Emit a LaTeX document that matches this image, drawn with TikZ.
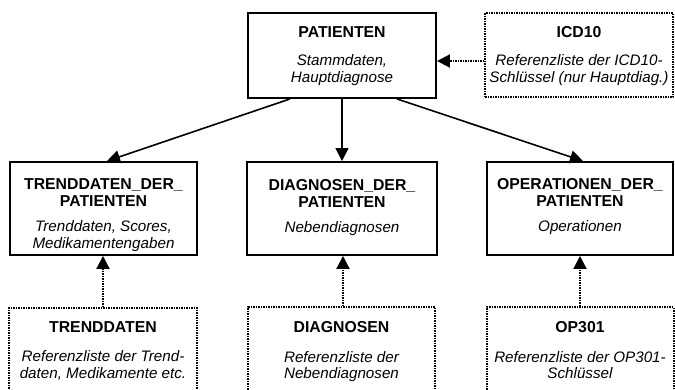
\documentclass[tikz,border=0pt]{standalone}
\usepackage{fontspec}
\setmainfont{Liberation Sans}
\usetikzlibrary{arrows.meta}
\newcommand\myital[1]{{\fontsize{15.2}{16.8}\selectfont\itshape #1}}
\begin{document}
\begin{tikzpicture}[x=1pt,y=-1pt,
  solidbox/.style={draw,line width=1.9pt,minimum height=#1,inner sep=0pt},
  dotbox/.style={draw,line width=2pt,dash pattern=on 1.5pt off 1pt,inner sep=0pt,minimum height=#1},
  boxtext/.style={anchor=north,align=center,inner sep=0pt,font=\fontsize{15.8}{16.8}\selectfont},
  solidarrow/.style={line width=1.6pt,-{Triangle[length=13pt,width=13pt]}},
  dotarrow/.style={line width=2pt,dash pattern=on 1.5pt off 1pt,-{Triangle[length=13pt,width=13pt]}}
]
\useasboundingbox (0,0) rectangle (675,389);

% top row
\node[solidbox=85pt,minimum width=188pt] (p) at (342,55.5) {};
\node[boxtext] (pt) at ([yshift=-14.5pt]p.north) {\textbf{PATIENTEN}\\[11pt]\myital{Stammdaten,}\\\myital{Hauptdiagnose}};

\node[dotbox=84pt,minimum width=188pt] (icd) at (579,55) {};
\node[boxtext] (icdt) at ([yshift=-14.5pt]icd.north) {\textbf{ICD10}\\[11pt]\myital{Referenzliste der ICD10-}\\\myital{Schlüssel (nur Hauptdiag.)}};

% middle row
\node[solidbox=93pt,minimum width=187pt] (td) at (103.5,208.5) {};
\node[boxtext] (tdt) at ([yshift=-17.5pt]td.north) {\textbf{TRENDDATEN\_DER\_}\\\textbf{PATIENTEN}\\[8.5pt]\myital{Trenddaten, Scores,}\\\myital{Medikamentengaben}};

\node[solidbox=93pt,minimum width=190pt] (dd) at (342,208.5) {};
\node[boxtext] (ddt) at ([yshift=-18.5pt]dd.north) {\textbf{DIAGNOSEN\_DER\_}\\\textbf{PATIENTEN}\\[8.5pt]\myital{Nebendiagnosen}};

\node[solidbox=93pt,minimum width=186pt] (od) at (580,208.5) {};
\node[boxtext] (odt) at ([yshift=-17.5pt]od.north) {\textbf{OPERATIONEN\_DER\_}\\\textbf{PATIENTEN}\\[8.5pt]\myital{Operationen}};

% bottom row (cut off by the lower edge)
\node[dotbox=110pt,minimum width=188pt] (tr) at (103,363) {};
\node[boxtext] (trt) at ([yshift=-14pt]tr.north) {\textbf{TRENDDATEN}\\[13pt]\myital{Referenzliste der Trend-}\\\myital{daten, Medikamente etc.}};

\node[dotbox=110pt,minimum width=187pt] (dr) at (341.5,362) {};
\node[boxtext] (drt) at ([yshift=-15pt]dr.north) {\textbf{DIAGNOSEN}\\[13pt]\myital{Referenzliste der}\\\myital{Nebendiagnosen}};

\node[dotbox=110pt,minimum width=187pt] (opr) at (580,362) {};
\node[boxtext] (oprt) at ([yshift=-15pt]opr.north) {\textbf{OP301}\\[13pt]\myital{Referenzliste der OP301-}\\\myital{Schlüssel}};

% connectors
\draw[dotarrow] (icd.west |- 0,61) -- (p.east |- 0,61);
\draw[solidarrow] ([xshift=-52pt]p.south) -- ([xshift=3.5pt]td.north);
\draw[solidarrow] (p.south) -- (dd.north);
\draw[solidarrow] ([xshift=55pt]p.south) -- ([xshift=3pt]od.north);
\draw[dotarrow] (tr.north) -- (tr.north |- td.south);
\draw[dotarrow] ([xshift=1.5pt]dr.north) -- ([xshift=1.5pt]dr.north |- dd.south);
\draw[dotarrow] (opr.north) -- (opr.north |- od.south);
\end{tikzpicture}
\end{document}
